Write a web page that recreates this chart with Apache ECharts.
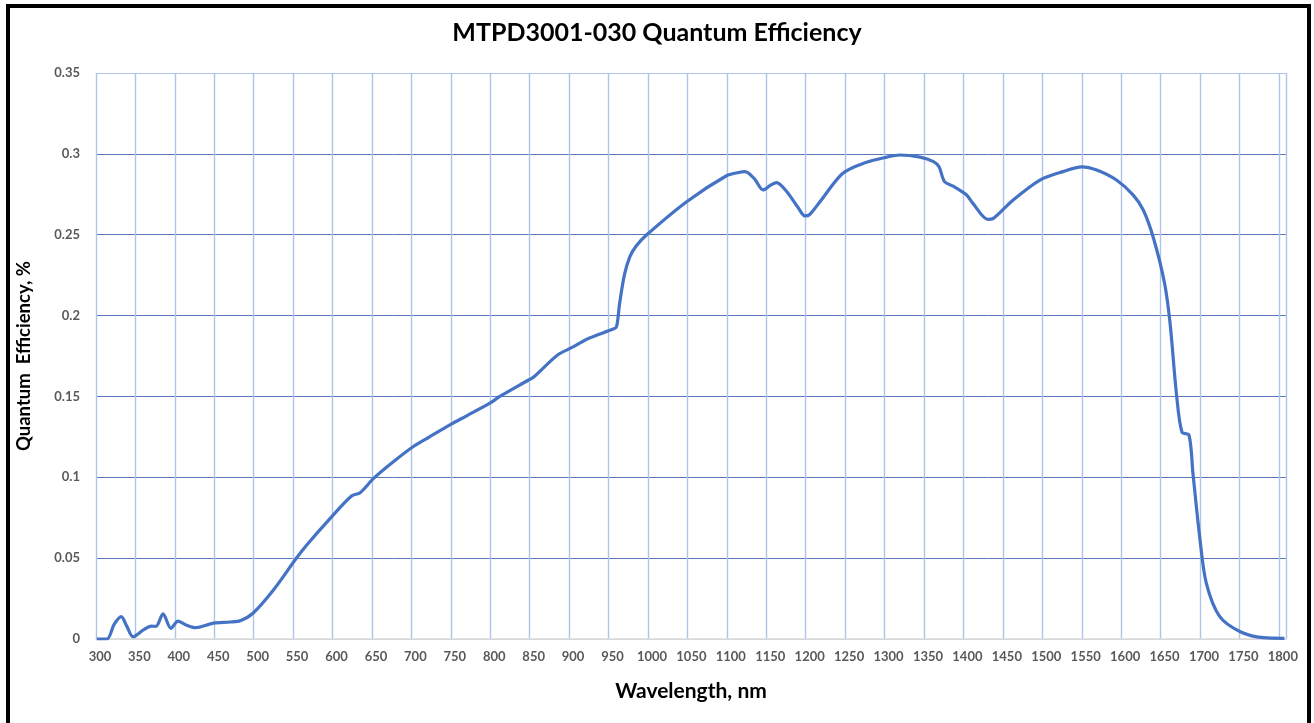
<!DOCTYPE html>
<html>
<head>
<meta charset="utf-8">
<script src="https://cdn.jsdelivr.net/npm/echarts@6/dist/echarts.min.js"></script>
<style>
  html, body { margin: 0; padding: 0; background: #fff; }
  #chart { position: absolute; left: 0; top: 0; width: 1314px; height: 723px; }
  #frame { position: absolute; left: 6px; top: 4px; width: 1297px; height: 740px; border: 4px solid #000; pointer-events: none; }
</style>
</head>
<body>
<div id="chart"></div>
<div id="frame"></div>
<script>
// wavelength (nm) and quantum efficiency
var wavelengths = [296, 309, 318, 327, 334, 342, 355, 365, 371, 380, 390, 399, 410, 421, 444, 465, 478, 494,
  520, 549, 562, 592, 619, 630, 647, 672, 697, 718, 746, 765, 795, 807, 843, 850, 880, 900, 920, 950, 955,
  959, 965, 972, 980, 993, 1044, 1094, 1110, 1118, 1130, 1141, 1150, 1158, 1171, 1185, 1194, 1200, 1213,
  1242, 1270, 1298, 1314, 1340, 1357, 1364, 1371, 1382, 1399, 1407, 1426, 1433, 1458, 1492, 1521, 1545,
  1564, 1589, 1610, 1623, 1636, 1650, 1657, 1665, 1672, 1681, 1686, 1695, 1703, 1720, 1746, 1775, 1802];
var efficiency = [0, 0, 0.009, 0.0138, 0.008, 0.0014, 0.0056, 0.008, 0.0078, 0.0155, 0.0066, 0.0111, 0.0085, 0.007, 0.0098, 0.0105, 0.0113, 0.0159,
  0.0303, 0.0499, 0.058, 0.0746, 0.0884, 0.0905, 0.0993, 0.1096, 0.1189, 0.125, 0.133, 0.138, 0.146, 0.150, 0.160, 0.162, 0.1755, 0.1806, 0.186, 0.1915, 0.193,
  0.2076, 0.225, 0.2364, 0.243, 0.2498, 0.2704, 0.2863, 0.2885, 0.289, 0.2845, 0.2777, 0.2805, 0.2822, 0.2766, 0.267, 0.2616, 0.2625, 0.2704,
  0.288, 0.2945, 0.298, 0.2993, 0.298, 0.2952, 0.292, 0.2828, 0.28, 0.2746, 0.2694, 0.2595, 0.2601, 0.2715, 0.2838, 0.289, 0.292,
  0.29, 0.2838, 0.2746, 0.2653, 0.2478, 0.22, 0.1952, 0.1519, 0.128, 0.126, 0.1025, 0.0612, 0.0344, 0.0138, 0.0045, 0.0008, 0.0004];
var xLabels = [300, 350, 400, 450, 500, 550, 600, 650, 700, 750, 800, 850, 900, 950, 1000, 1050, 1100, 1150,
  1200, 1250, 1300, 1350, 1400, 1450, 1500, 1550, 1600, 1650, 1700, 1750, 1800];

var xMin = 295, xMax = 1804;
var points = wavelengths.map(function (w, i) { return [w, efficiency[i]]; });

var myChart = echarts.init(document.getElementById('chart'));
myChart.setOption({
  animation: false,
  title: {
    text: 'MTPD3001-030 Quantum Efficiency',
    left: 'center',
    top: 15,
    textStyle: { fontFamily: 'Lato', fontSize: 25, fontWeight: 'bold', color: '#000' }
  },
  grid: { left: 96, right: 28, top: 73, bottom: 84 },
  xAxis: [{
    // only used for the vertical grid lines (every 50 nm from 295)
    type: 'value',
    min: 0,
    max: xMax - xMin,
    interval: 50,
    axisLine: { show: false },
    axisTick: { show: false },
    axisLabel: { show: false },
    splitLine: { show: true, lineStyle: { color: '#aec3e8', width: 1.4 } }
  }, {
    type: 'value',
    min: xMin,
    max: xMax,
    position: 'bottom',
    name: 'Wavelength, nm',
    nameLocation: 'middle',
    nameGap: 42,
    nameTextStyle: { fontFamily: 'Lato', fontSize: 21, fontWeight: 'bold', color: '#000' },
    axisLine: { show: true, lineStyle: { color: '#d9d9d9', width: 1.5 } },
    axisTick: { show: false },
    splitLine: { show: false },
    axisLabel: {
      customValues: xLabels,
      margin: 11,
      fontFamily: 'Lato',
      fontSize: 13,
      fontWeight: 'bold',
      color: '#595959',
      formatter: function (v) { return String(v); }
    }
  }],
  yAxis: [{
    type: 'value',
    min: 0,
    max: 0.35,
    interval: 0.05,
    name: 'Quantum  Efficiency, %',
    nameLocation: 'middle',
    nameGap: 62,
    nameTextStyle: { fontFamily: 'Lato', fontSize: 18.5, fontWeight: 'bold', color: '#000' },
    axisLine: { show: false },
    axisTick: { show: false },
    axisLabel: { margin: 16, fontFamily: 'Lato', fontSize: 13, fontWeight: 'bold', color: '#595959' },
    splitLine: {
      show: true,
      lineStyle: {
        color: ['#d9d9d9', '#5a79b8', '#5a79b8', '#5a79b8', '#5a79b8', '#5a79b8', '#5a79b8', '#aec3e8'],
        width: 1
      }
    }
  }],
  series: [{
    name: 'QE',
    type: 'line',
    xAxisIndex: 1,
    data: points,
    smooth: 0.3,
    showSymbol: false,
    lineStyle: { color: '#4472c4', width: 3.2 },
    z: 5
  }]
});
window.onresize = myChart.resize;
</script>
</body>
</html>
